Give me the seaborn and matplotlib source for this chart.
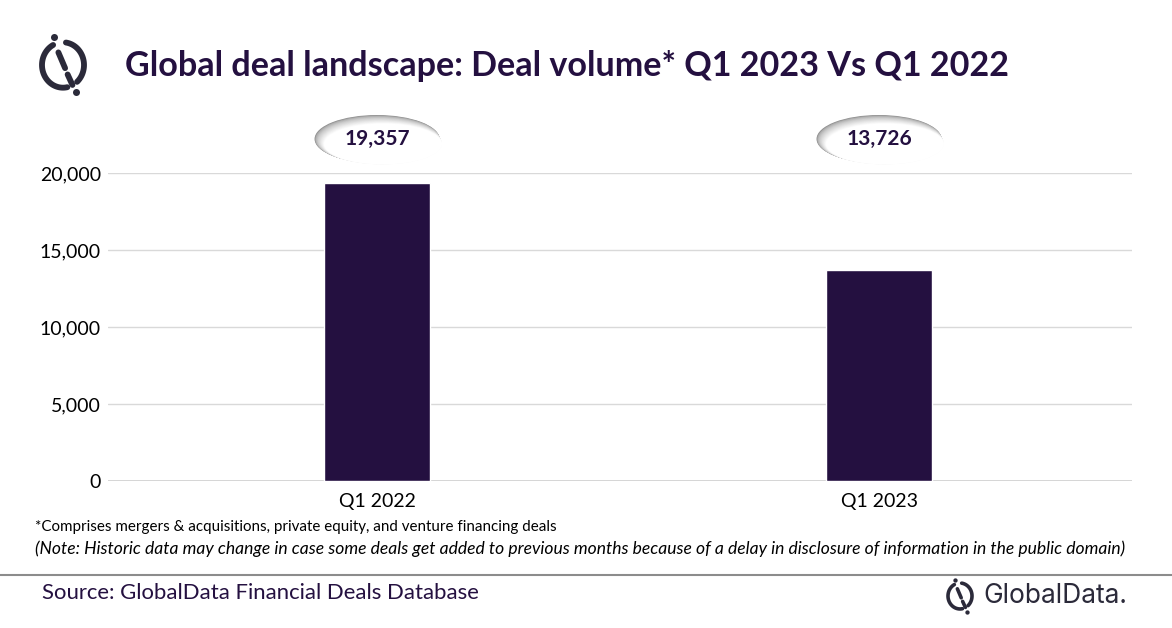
import matplotlib
matplotlib.use("Agg")
import matplotlib.pyplot as plt
import seaborn as sns
import pandas as pd
import numpy as np
from matplotlib.patches import Ellipse
from matplotlib.colors import to_rgb
from matplotlib.ticker import FuncFormatter

periods = ["Q1 2022", "Q1 2023"]
deal_volume = [19357, 13726]
y_ticks = [0, 5000, 10000, 15000, 20000]

title = "Global deal landscape: Deal volume* Q1 2023 Vs Q1 2022"
note1 = "*Comprises mergers & acquisitions, private equity, and venture financing deals"
note2 = ("(Note: Historic data may change in case some deals get added to previous months "
         "because of a delay in disclosure of information in the public domain)")
source = "Source: GlobalData Financial Deals Database"

BAR = "#241040"
TXT = "#241040"
FONT = ["Lato", "DejaVu Sans"]

sns.set_theme(style="white")
plt.rcParams["font.family"] = FONT

W, H = 1172, 628
fig = plt.figure(figsize=(W / 100, H / 100), dpi=100)

# main axes in pixel layout
ax_l, ax_r, ax_t, ax_b = 108, 1132, 173, 481
ax = fig.add_axes([ax_l / W, 1 - ax_b / H, (ax_r - ax_l) / W, (ax_b - ax_t) / H])

df = pd.DataFrame({"period": periods, "volume": deal_volume})
sns.barplot(data=df, x="period", y="volume", color=BAR, width=0.21, ax=ax,
            saturation=1, zorder=3)
XL = (-0.536, 1.504)
ax.set_xlim(*XL)
ax.set_ylim(0, 20000)
ax.set_yticks(y_ticks)
ax.yaxis.set_major_formatter(FuncFormatter(lambda v, p: f"{int(v):,}"))
ax.grid(axis="y", color="#d9d9d9", linewidth=1, zorder=0)
ax.grid(axis="x", visible=False)
for s in ax.spines.values():
    s.set_visible(False)
ax.axhline(0, color="#d0d0d0", linewidth=1.2, zorder=2)
ax.set_xlabel("")
ax.set_ylabel("")
ax.tick_params(axis="y", labelsize=14, colors="#000000", pad=5, length=0)
ax.tick_params(axis="x", labelsize=14, colors="#000000", pad=9, length=0)

# bubbles with values (soft shadow at top-left)
px_per_x = (ax_r - ax_l) / (XL[1] - XL[0])
px_per_y = (ax_b - ax_t) / 20000
bw_px, bh_px = 125, 48
by = (ax_b - 139) / px_per_y
dark = np.array(to_rgb("#8f8f8f"))
white = np.array([1.0, 1.0, 1.0])
N = 14
for i, v in enumerate(deal_volume):
    for k in range(N + 1):
        t = k / N
        col = dark + (white - dark) * (t ** 0.55)
        dx, dy = t * 6, t * 5
        shrink = t * 7
        e = Ellipse((i + dx / px_per_x, by - dy / px_per_y),
                    (bw_px - shrink) / px_per_x, (bh_px - shrink) / px_per_y,
                    facecolor=col, edgecolor="none", clip_on=False, zorder=4 + k * 0.01)
        ax.add_patch(e)
    ax.text(i, by, f"{v:,}", ha="center", va="center", fontsize=15,
            fontweight="bold", color=TXT, zorder=9, clip_on=False)

# overlay axes for decorations in pixel coords
ov = fig.add_axes([0, 0, 1, 1], zorder=-1)
ov.set_xlim(0, W)
ov.set_ylim(H, 0)
ov.axis("off")

ov.text(125, 66, title, fontsize=24.6, fontweight="bold", color=TXT,
        ha="left", va="center")


def logo(cx, cy, r, lw, color="#2b2a3a"):
    def arc(a0, a1):
        t = np.radians(np.linspace(a0, a1, 60))
        ov.plot(cx + r * np.cos(t), cy - 1.08 * r * np.sin(t), color=color,
                lw=lw, solid_capstyle="round")
    arc(118, 282)
    arc(-48, 82)
    ov.plot([cx - 0.22 * r, cx + 0.1 * r], [cy - 0.6 * r, cy + 0.15 * r],
            color=color, lw=lw, solid_capstyle="round")
    ov.plot([cx + 0.22 * r, cx + 0.45 * r], [cy + 0.45 * r, cy + 0.95 * r],
            color=color, lw=lw, solid_capstyle="round")
    ov.plot([cx - 0.45 * r], [cy - 1.32 * r], "o", color=color, ms=lw * 1.2,
            mec="none")
    ov.plot([cx + 0.62 * r], [cy + 1.3 * r], "o", color=color, ms=lw * 1.2,
            mec="none")


logo(63, 65, 21, 4.2)

ov.text(35, 527, note1, fontsize=10.9, color="#000000", ha="left", va="center")
ov.text(35, 549, note2, fontsize=12.6, color="#000000", ha="left", va="center",
        style="italic")
ov.plot([0, W], [575, 575], color="#8c8c8c", lw=1.5)
ov.text(42, 593, source, fontsize=15.9, color=TXT, ha="left", va="center")

logo(960, 596, 12, 2.6)
ov.text(983, 596, "GlobalData.", fontsize=19, color="#2b2a3a", ha="left",
        va="center", family=["Inter", "DejaVu Sans"])

fig.savefig("out.png", dpi=100, facecolor="white")
